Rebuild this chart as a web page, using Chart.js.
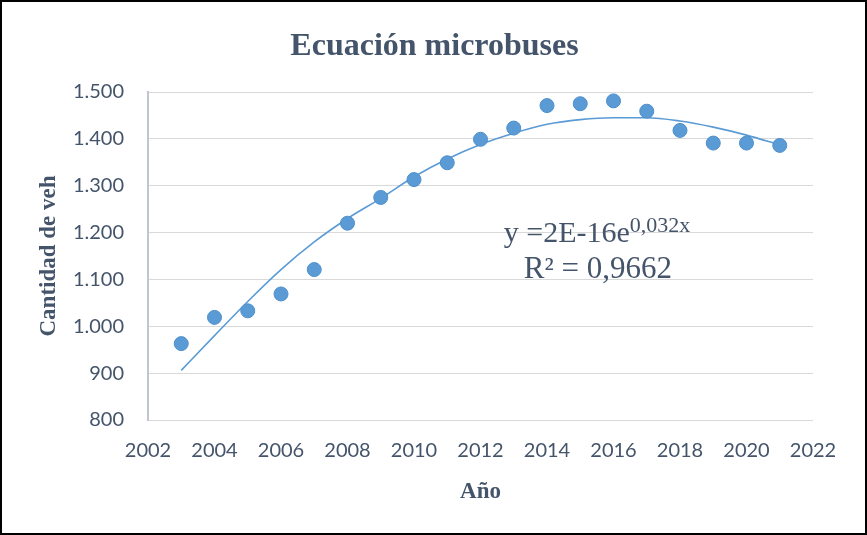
<!DOCTYPE html>
<html>
<head>
<meta charset="utf-8">
<script src="https://cdn.jsdelivr.net/npm/chart.js@4"></script>
<style>
  html, body { margin: 0; padding: 0; background: #ffffff; }
  #wrap { width: 867px; height: 535px; position: relative; }
</style>
</head>
<body>
<div id="wrap"><canvas id="microChart" width="867" height="535"></canvas></div>
<script>
// years on the x axis
const years = [2003, 2004, 2005, 2006, 2007, 2008, 2009, 2010, 2011, 2012,
  2013, 2014, 2015, 2016, 2017, 2018, 2019, 2020, 2021];
// cantidad de vehiculos
const vehicles = [963, 1019, 1033, 1069, 1121, 1220, 1275, 1313, 1349, 1399,
  1423, 1471, 1475, 1481, 1459, 1418, 1391, 1391, 1386];
// trend line as drawn in the picture, read at each year
const trendValues = [906, 980, 1053, 1121, 1180, 1230, 1273, 1319, 1357, 1388,
  1412, 1431, 1441, 1445, 1445, 1438, 1425, 1408, 1387];

const chartTitle = "Ecuación microbuses";
const xTitle = "Año";
const yTitle = "Cantidad de veh";
const equationText = "y =2E-16e";
const equationExp = "0,032x";
const r2Text = "R² = 0,9662";

const textColor = "#44546A";
const blue = "#5B9BD5";

function formatThousands(v) {
  return String(v).replace(/\B(?=(\d{3})+(?!\d))/g, ".");
}

// outer black frame + chart title (centred on the whole picture, like Excel)
const framePlugin = {
  id: "frame",
  afterDraw(chart) {
    const ctx = chart.ctx;
    ctx.save();
    ctx.fillStyle = textColor;
    ctx.font = "bold 32px 'Liberation Serif'";
    ctx.textAlign = "center";
    ctx.textBaseline = "alphabetic";
    ctx.fillText(chartTitle, chart.width / 2 + 1, 55);

    ctx.strokeStyle = "#000000";
    ctx.lineWidth = 2;
    ctx.strokeRect(1, 1, chart.width - 2, chart.height - 2);
    ctx.restore();
  },
};

// trendline equation label
const equationPlugin = {
  id: "equation",
  afterDatasetsDraw(chart) {
    const ctx = chart.ctx;
    const xs = chart.scales.x;
    const ys = chart.scales.y;
    ctx.save();
    ctx.fillStyle = textColor;
    ctx.textAlign = "left";
    ctx.textBaseline = "alphabetic";

    let x = xs.getPixelForValue(2012.7);
    let y = ys.getPixelForValue(1180);
    ctx.font = "30px 'Liberation Serif'";
    ctx.fillText(equationText, x, y);
    const w = ctx.measureText(equationText).width;
    ctx.font = "22px 'Liberation Serif'";
    ctx.fillText(equationExp, x + w, y - 10);

    x = xs.getPixelForValue(2013.3);
    y = ys.getPixelForValue(1102);
    ctx.font = "31px 'Liberation Serif'";
    ctx.fillText(r2Text, x, y);
    ctx.restore();
  },
};

const pointData = years.map((yr, i) => ({ x: yr, y: vehicles[i] }));
const trendData = years.map((yr, i) => ({ x: yr, y: trendValues[i] }));

const ctx = document.getElementById("microChart").getContext("2d");
new Chart(ctx, {
  type: "scatter",
  data: {
    datasets: [
      {
        label: "Cantidad",
        data: pointData,
        backgroundColor: blue,
        borderColor: "#4E8FCB",
        borderWidth: 1,
        pointRadius: 7,
        pointHoverRadius: 7,
      },
      {
        type: "line",
        label: "Tendencia",
        data: trendData,
        borderColor: blue,
        borderWidth: 1.6,
        pointRadius: 0,
        fill: false,
        cubicInterpolationMode: "monotone",
      },
    ],
  },
  options: {
    responsive: false,
    animation: false,
    events: [],
    layout: { padding: { left: 0, right: 54, top: 92, bottom: 0 } },
    plugins: {
      legend: { display: false },
      tooltip: { enabled: false },
      title: { display: false },
    },
    scales: {
      x: {
        type: "linear",
        min: 2002,
        max: 2022,
        afterFit(scale) { scale.height = 115; },
        grid: { display: false, drawTicks: false },
        border: { display: false },
        ticks: {
          stepSize: 2,
          padding: 19,
          color: textColor,
          font: { family: "Lato", size: 20 },
          callback: (v) => String(v),
        },
        title: {
          display: true,
          text: xTitle,
          color: textColor,
          font: { family: "'Liberation Serif'", size: 23, weight: "bold", lineHeight: 1.2 },
          padding: { top: 0, bottom: 29 },
        },
      },
      y: {
        min: 800,
        max: 1500,
        afterFit(scale) { scale.width = 148; },
        grid: { color: "#D9D9D9", lineWidth: 1, drawTicks: false },
        border: { display: true, color: "#BFC6D1", width: 2 },
        ticks: {
          stepSize: 100,
          padding: 24,
          color: textColor,
          font: { family: "Lato", size: 20 },
          callback: (v) => formatThousands(v),
        },
        title: {
          display: true,
          text: yTitle,
          color: textColor,
          font: { family: "'Liberation Serif'", size: 23, weight: "bold", lineHeight: 1.2 },
          padding: { top: 35, bottom: 0 },
        },
      },
    },
  },
  plugins: [framePlugin, equationPlugin],
});
</script>
</body>
</html>
